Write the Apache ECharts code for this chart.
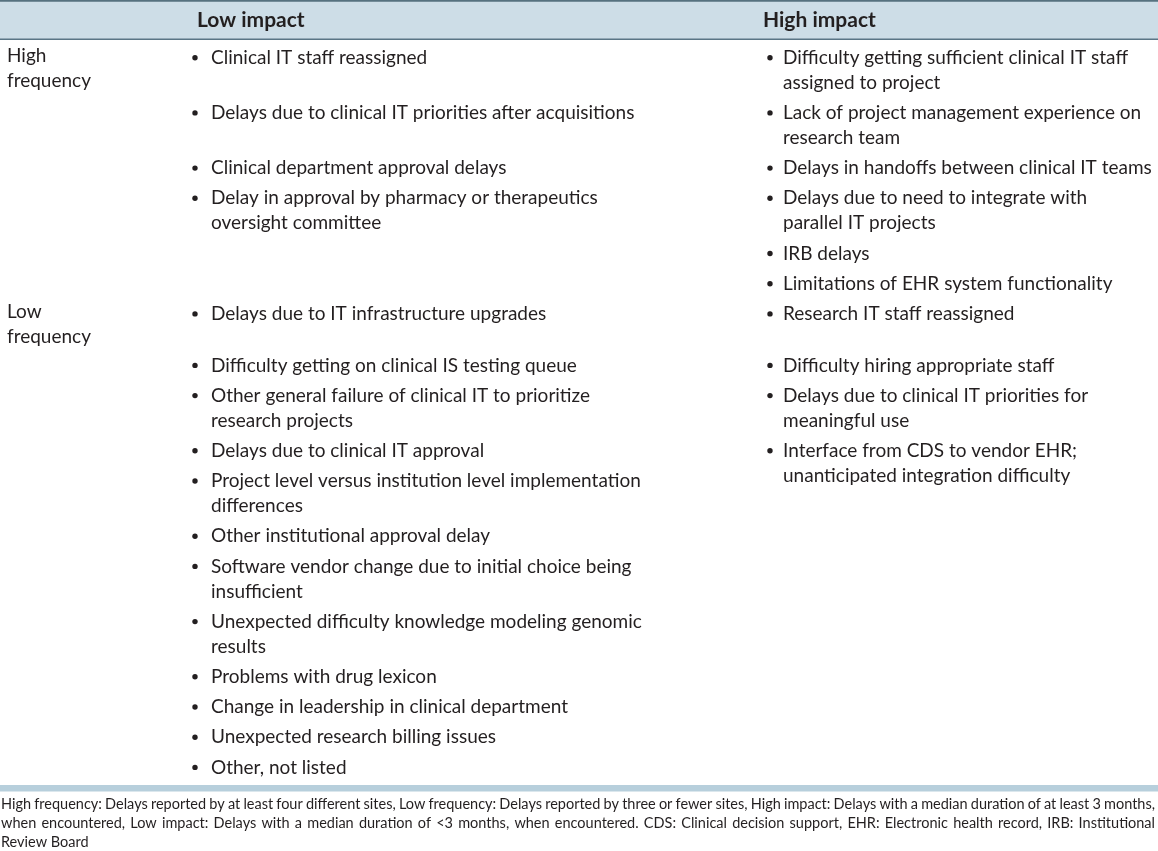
<!DOCTYPE html>
<html>
<head>
<meta charset="utf-8">
<script src="https://cdn.jsdelivr.net/npm/echarts@6/dist/echarts.min.js"></script>
<style>
html,body{margin:0;padding:0;background:#fff;}
#chart{width:1158px;height:851px;}
</style>
</head>
<body>
<div id="chart"></div>
<script>
// ---------- data ----------
const impactHeaders = ['Low impact', 'High impact'];
const frequencyLabels = ['High\nfrequency', 'Low\nfrequency'];
const rowFrequency = [0, 0, 0, 0, 1, 1, 1, 1];
const lowImpactCells = [
  ['Clinical IT staff reassigned'],
  ['Delays due to clinical IT priorities after acquisitions'],
  ['Clinical department approval delays'],
  ['Delay in approval by pharmacy or therapeutics\noversight committee'],
  ['Delays due to IT infrastructure upgrades'],
  ['Difficulty getting on clinical IS testing queue'],
  ['Other general failure of clinical IT to prioritize\nresearch projects'],
  ['Delays due to clinical IT approval',
   'Project level versus institution level implementation\ndifferences',
   'Other institutional approval delay',
   'Software vendor change due to initial choice being\ninsufficient',
   'Unexpected difficulty knowledge modeling genomic\nresults',
   'Problems with drug lexicon',
   'Change in leadership in clinical department',
   'Unexpected research billing issues',
   'Other, not listed']
];
const highImpactCells = [
  ['Difficulty getting sufficient clinical IT staff\nassigned to project'],
  ['Lack of project management experience on\nresearch team'],
  ['Delays in handoffs between clinical IT teams'],
  ['Delays due to need to integrate with\nparallel IT projects', 'IRB delays', 'Limitations of EHR system functionality'],
  ['Research IT staff reassigned'],
  ['Difficulty hiring appropriate staff'],
  ['Delays due to clinical IT priorities for\nmeaningful use'],
  ['Interface from CDS to vendor EHR;\nunanticipated integration difficulty']
];
const footnoteLines = [
  'High frequency: Delays reported by at least four different sites, Low frequency: Delays reported by three or fewer sites, High impact: Delays with a median duration of at least 3 months,',
  'when encountered, Low impact: Delays with a median duration of <3 months, when encountered. CDS: Clinical decision support, EHR: Electronic health record, IRB: Institutional',
  'Review Board'
];

// ---------- layout (styling only) ----------
const W = 1158, H = 851;
const FONT = 'Lato';
const BODY_SIZE = 19;
const HEAD_SIZE = 21;
const TEXT_COLOR = '#231f20';
const LINE_H = 25, ITEM_GAP = 5.2, LABEL_GAP = 1.5;
const BODY_TOP = 45.2;
const LABEL_X = 7;
const BULLET_X = [195, 770];
const TEXT_X = [211, 783];
const HEADER_X = [197, 763];
const HEADER_CY = 20;
const FOOT_SIZE = 14.5;
const FOOT_CY = [804, 823, 842];
const FOOT_X0 = 1, FOOT_X1 = 1155;

const nLines = s => s.split('\n').length;
const blockH = s => nLines(s) * LINE_H + ITEM_GAP;

const textData = [];   // [x, y, text, size, weight, valign]
const bulletData = []; // [x, y]
const rectData = [];   // [x0, y0, x1, y1, color]

// frame
rectData.push([0, 1, W, 39, '#cddde7']);
rectData.push([0, 0, W, 1.8, '#56717f']);
rectData.push([0, 38.5, W, 40, '#5a7586']);
rectData.push([0, 785, W, 791.5, '#b7cfdc']);

// headers
impactHeaders.forEach((h, i) => textData.push([HEADER_X[i], HEADER_CY, h, HEAD_SIZE, 'bold', 'middle']));

// body rows
let y = BODY_TOP;
let lastGroup = -1;
rowFrequency.forEach((g, r) => {
  let rowH = 0;
  if (g !== lastGroup) {
    textData.push([LABEL_X, y - 2, frequencyLabels[g], BODY_SIZE, 'normal', 'top']);
    rowH = Math.max(rowH, nLines(frequencyLabels[g]) * LINE_H + LABEL_GAP);
    lastGroup = g;
  }
  [lowImpactCells[r], highImpactCells[r]].forEach((cell, c) => {
    let yy = y;
    cell.forEach(item => {
      bulletData.push([BULLET_X[c], yy + LINE_H / 2]);
      textData.push([TEXT_X[c], yy, item, BODY_SIZE, 'normal', 'top']);
      yy += blockH(item);
    });
    rowH = Math.max(rowH, yy - y);
  });
  y += rowH;
});

// footnote (justified lines)
const ctx = document.createElement('canvas').getContext('2d');
ctx.font = FOOT_SIZE + 'px ' + FONT;
footnoteLines.forEach((line, li) => {
  const words = line.split(' ');
  const widths = words.map(w => ctx.measureText(w).width);
  const total = widths.reduce((a, b) => a + b, 0);
  const justify = li < footnoteLines.length - 1;
  const gap = justify ? (FOOT_X1 - FOOT_X0 - total) / (words.length - 1) : ctx.measureText(' ').width;
  let x = FOOT_X0;
  words.forEach((w, wi) => {
    textData.push([x, FOOT_CY[li], w, FOOT_SIZE, 'normal', 'middle']);
    x += widths[wi] + gap;
  });
});

const chart = echarts.init(document.getElementById('chart'), null, { renderer: 'canvas' });
chart.setOption({
  animation: false,
  backgroundColor: '#ffffff',
  grid: { left: 0, right: 0, top: 0, bottom: 0 },
  xAxis: { type: 'value', min: 0, max: W, show: false },
  yAxis: { type: 'value', min: 0, max: H, inverse: true, show: false },
  series: [
    {
      type: 'custom',
      silent: true,
      data: rectData,
      renderItem: (params, api) => {
        const d = rectData[params.dataIndex];
        const p0 = api.coord([d[0], d[1]]);
        const p1 = api.coord([d[2], d[3]]);
        return { type: 'rect', shape: { x: p0[0], y: p0[1], width: p1[0] - p0[0], height: p1[1] - p0[1] }, style: { fill: d[4] } };
      }
    },
    {
      type: 'custom',
      silent: true,
      data: bulletData,
      renderItem: (params, api) => {
        const p = api.coord([api.value(0), api.value(1)]);
        return { type: 'circle', shape: { cx: p[0], cy: p[1], r: 2.7 }, style: { fill: TEXT_COLOR } };
      }
    },
    {
      type: 'custom',
      silent: true,
      data: textData,
      renderItem: (params, api) => {
        const d = textData[params.dataIndex];
        const p = api.coord([d[0], d[1]]);
        return {
          type: 'text',
          x: p[0], y: p[1],
          style: {
            text: d[2],
            fontFamily: FONT,
            fontSize: d[3],
            fontWeight: d[4],
            fill: TEXT_COLOR,
            textAlign: 'left',
            textVerticalAlign: d[5],
            lineHeight: d[5] === 'top' ? LINE_H : undefined
          }
        };
      }
    }
  ]
});
</script>
</body>
</html>
